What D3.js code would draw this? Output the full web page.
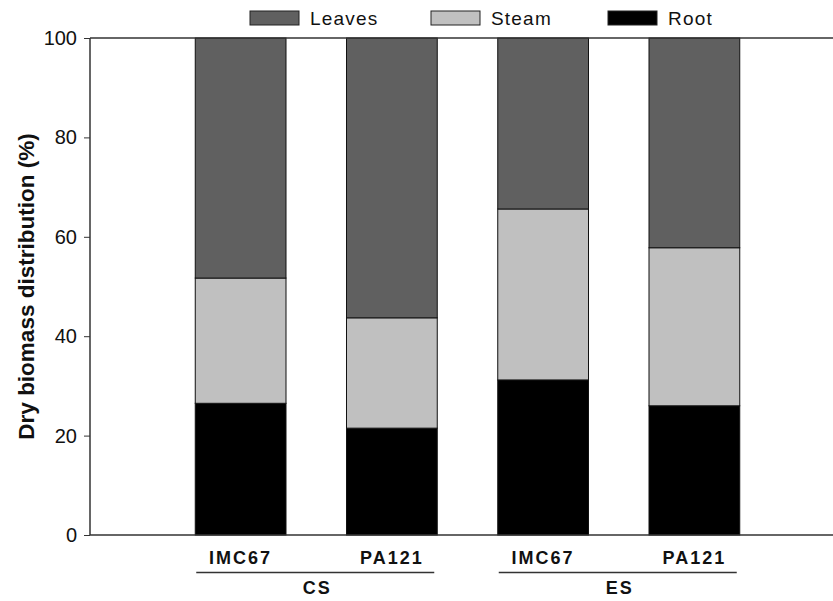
<!DOCTYPE html>
<html>
<head>
<meta charset="utf-8">
<script src="https://cdn.jsdelivr.net/npm/d3@7"></script>
<style>
  body { margin: 0; background: #fff; }
  text { font-family: Arial, "Liberation Sans", sans-serif; fill: #111; }
</style>
</head>
<body>
<svg id="chart" width="833" height="601"></svg>
<script>
// data
const groups = ['CS', 'CS', 'ES', 'ES'];
const clones = ['IMC67', 'PA121', 'IMC67', 'PA121'];
const root = [26.5, 21.5, 31.2, 26.0];
const steam = [25.2, 22.2, 34.4, 31.8];
const leaves = [48.3, 56.3, 34.4, 42.2];
const seriesNames = ['Root', 'Steam', 'Leaves'];
const yTicks = [0, 20, 40, 60, 80, 100];

const colors = { Root: '#000000', Steam: '#c0c0c0', Leaves: '#606060' };

const rows = clones.map((c, i) => ({
  id: groups[i] + '-' + c, group: groups[i], clone: c,
  Root: root[i], Steam: steam[i], Leaves: leaves[i]
}));

const svg = d3.select('#chart');
const plotL = 90, plotR = 833, plotT = 38, plotB = 535;

const x = d3.scaleBand().domain(rows.map(d => d.id))
  .range([165, 770]).paddingInner(0.4).paddingOuter(0.2);
const y = d3.scaleLinear().domain([0, 100]).range([plotB, plotT]);

const stacked = d3.stack().keys(seriesNames)(rows);

svg.append('g').selectAll('g')
  .data(stacked)
  .join('g')
  .attr('fill', s => colors[s.key])
  .selectAll('rect')
  .data(s => s)
  .join('rect')
  .attr('x', d => x(d.data.id))
  .attr('width', x.bandwidth())
  .attr('y', d => y(d[1]))
  .attr('height', d => y(d[0]) - y(d[1]))
  .attr('stroke', '#111')
  .attr('stroke-width', 1);

// frame: left, top, bottom
const frame = svg.append('g').attr('stroke', '#333').attr('stroke-width', 1.5);
frame.append('line').attr('x1', plotL).attr('x2', plotL).attr('y1', plotT).attr('y2', plotB);
frame.append('line').attr('x1', plotL).attr('x2', plotR).attr('y1', plotT).attr('y2', plotT);
frame.append('line').attr('x1', plotL).attr('x2', plotR).attr('y1', plotB).attr('y2', plotB);

// y axis
const yAxis = svg.append('g')
  .attr('transform', `translate(${plotL},0)`)
  .call(d3.axisLeft(y).tickValues(yTicks).tickSize(6).tickPadding(7));
yAxis.select('.domain').remove();
yAxis.selectAll('line').attr('stroke', '#333');
yAxis.selectAll('text')
  .style('font-size', '20px')
  .style('font-family', 'Arial, "Liberation Sans", sans-serif')
  .attr('fill', '#111');

svg.append('text')
  .attr('transform', `translate(34,${(plotT + plotB) / 2}) rotate(-90)`)
  .attr('text-anchor', 'middle')
  .style('font-size', '22.5px')
  .style('font-weight', 'bold')
  .text('Dry biomass distribution (%)');

// category labels
svg.append('g').selectAll('text')
  .data(rows)
  .join('text')
  .attr('x', d => x(d.id) + x.bandwidth() / 2)
  .attr('y', 564)
  .attr('text-anchor', 'middle')
  .style('font-size', '18px')
  .style('font-weight', 'bold')
  .style('letter-spacing', '2px')
  .text(d => d.clone);

// group underlines and labels
const groupNames = Array.from(new Set(groups));
groupNames.forEach(g => {
  const ids = rows.filter(d => d.group === g).map(d => d.id);
  const x0 = x(ids[0]) + 1;
  const x1 = x(ids[ids.length - 1]) + x.bandwidth() - 3;
  svg.append('line')
    .attr('x1', x0).attr('x2', x1).attr('y1', 572.5).attr('y2', 572.5)
    .attr('stroke', '#333').attr('stroke-width', 1.5);
  svg.append('text')
    .attr('x', (x0 + x1) / 2 + 2)
    .attr('y', 594)
    .attr('text-anchor', 'middle')
    .style('font-size', '18px')
    .style('font-weight', 'bold')
    .style('letter-spacing', '2px')
    .text(g);
});

// legend
const legendItems = [
  { name: 'Leaves', x: 250 },
  { name: 'Steam', x: 431 },
  { name: 'Root', x: 608 }
];
const lg = svg.append('g').selectAll('g').data(legendItems).join('g')
  .attr('transform', d => `translate(${d.x},11)`);
lg.append('rect')
  .attr('width', 49).attr('height', 14)
  .attr('fill', d => colors[d.name])
  .attr('stroke', '#222').attr('stroke-width', 1);
lg.append('text')
  .attr('x', 60).attr('y', 14)
  .style('font-size', '19px')
  .style('letter-spacing', '1.2px')
  .text(d => d.name);
</script>
</body>
</html>
